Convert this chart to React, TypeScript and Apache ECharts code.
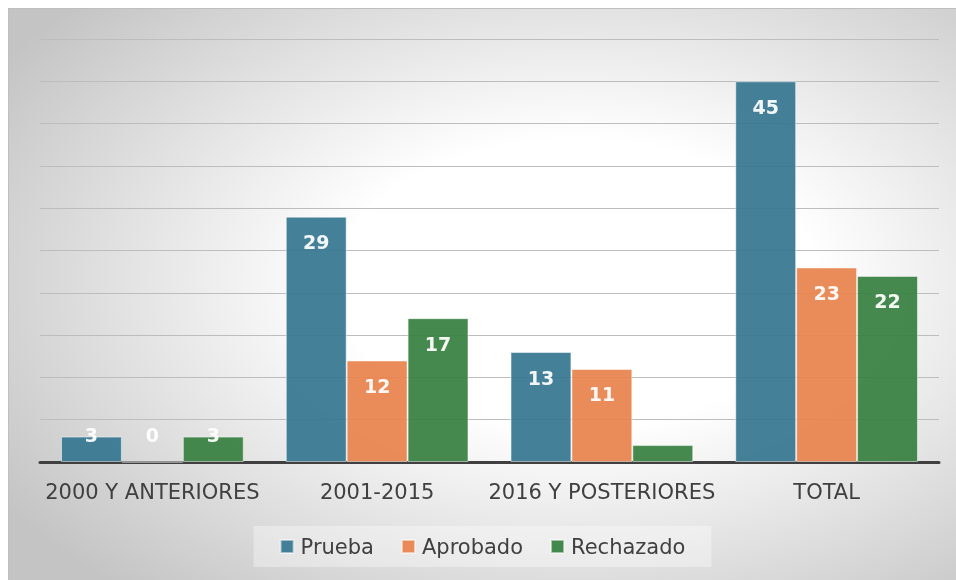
import React, { useEffect, useRef } from "react";
import * as echarts from "echarts";

const categories = ["2000 Y ANTERIORES", "2001-2015", "2016 Y POSTERIORES", "TOTAL"];
const prueba = [3, 29, 13, 45];
const aprobado = [0, 12, 11, 23];
const rechazado = [3, 17, 2, 22];
const seriesNames = ["Prueba", "Aprobado", "Rechazado"];
const colors = ["#367690", "#E8834E", "#388041"];

function buildData(values: number[]) {
  return values.map((v, i) => {
    if (i === 0) {
      return { value: v, label: { position: "insideBottom", distance: 18 } };
    }
    if (v < 5) {
      return { value: v, label: { show: false } };
    }
    return { value: v };
  });
}

export default function App() {
  const ref = useRef<HTMLDivElement>(null);
  useEffect(() => {
    if (!ref.current) return;
    const chart = echarts.init(ref.current, undefined, { renderer: "svg" });
    const all = [prueba, aprobado, rechazado];
    chart.setOption({
      animation: false,
      backgroundColor: {
        type: "radial",
        x: 0.6,
        y: 0.48,
        r: 0.72,
        colorStops: [
          { offset: 0, color: "#ffffff" },
          { offset: 0.35, color: "#ffffff" },
          { offset: 1, color: "#c4c4c4" },
        ],
      },
      grid: { left: 31, right: 17, top: 30, bottom: 118, containLabel: false },
      legend: {
        data: seriesNames,
        top: 517,
        left: "center",
        itemWidth: 13,
        itemHeight: 13,
        itemGap: 27,
        padding: [10, 26],
        backgroundColor: "rgba(255,255,255,0.35)",
        icon: "rect",
        textStyle: { fontSize: 21, color: "#404040", fontFamily: "DejaVu Sans", padding: [0, 0, 0, 2] },
      },
      xAxis: {
        type: "category",
        data: categories,
        axisLine: { lineStyle: { color: "#404040", width: 3 } },
        axisTick: { show: false },
        axisLabel: { color: "#404040", fontSize: 21, fontFamily: "DejaVu Sans", margin: 19, interval: 0 },
      },
      yAxis: {
        type: "value",
        min: 0,
        max: 50,
        interval: 5,
        axisLabel: { show: false },
        axisLine: { show: false },
        axisTick: { show: false },
        splitLine: { lineStyle: { color: "#bdbdbd", width: 1 } },
      },
      series: all.map((vals, i) => ({
        name: seriesNames[i],
        type: "bar",
        data: buildData(vals),
        barGap: "0%",
        barCategoryGap: "18.7%",
        itemStyle: {
          color: colors[i],
          opacity: 0.93,
          borderColor: "rgba(255,255,255,0.55)",
          borderWidth: 1,
        },
        label: {
          show: true,
          position: "insideTop",
          distance: 16,
          color: "#ffffff",
          fontSize: 19,
          fontWeight: "bold",
          fontFamily: "DejaVu Sans",
        },
      })),
    });
    return () => chart.dispose();
  }, []);
  return (
    <div
      ref={ref}
      style={{
        position: "fixed",
        left: 8,
        top: 8,
        width: 948,
        height: 572,
        borderTop: "1px solid #bfbfbf",
        borderLeft: "1px solid #bfbfbf",
        boxSizing: "border-box",
      }}
    />
  );
}
